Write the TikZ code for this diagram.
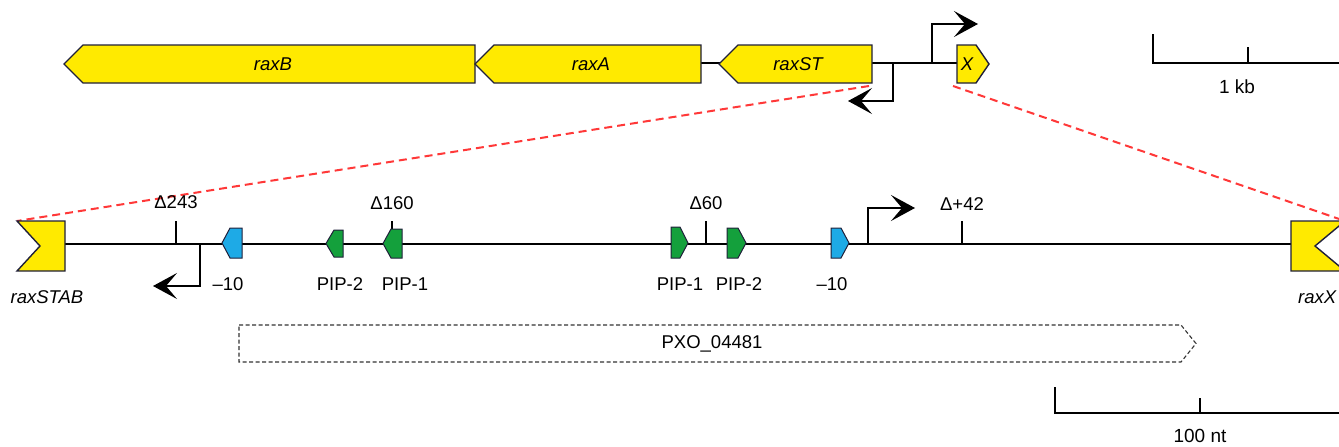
\documentclass[tikz,border=0pt]{standalone}
\usepackage{fontspec}
\setmainfont{Liberation Sans}
\usetikzlibrary{arrows.meta}
\definecolor{geneyellow}{HTML}{FFEA00}
\definecolor{geneedge}{HTML}{20203A}
\definecolor{pipgreen}{HTML}{14A03C}
\definecolor{boxblue}{HTML}{1EAAE6}
\definecolor{zoomred}{HTML}{FF3838}
\tikzset{
  gene/.style={draw=geneedge, fill=geneyellow, line width=1.4pt, line join=miter},
  pip/.style={draw=geneedge, fill=pipgreen, line width=1pt},
  minus/.style={draw=geneedge, fill=boxblue, line width=1pt},
  dna/.style={draw=black, line width=2.2pt},
  tick/.style={draw=black, line width=1.5pt},
  prom/.style={draw=black, line width=1.6pt, -{Stealth[length=24pt,width=26pt,inset=11pt]}},
  zoomline/.style={draw=zoomred, line width=2pt, dash pattern=on 8pt off 5pt},
  lbl/.style={inner sep=0pt, font=\fontsize{18.5}{20}\selectfont},
  glbl/.style={lbl, font=\fontsize{18.5}{20}\selectfont\itshape},
  scalelbl/.style={inner sep=0pt, font=\fontsize{19}{21}\selectfont},
  orf/.style={draw=black!80, line width=1.1pt, dash pattern=on 4pt off 2.5pt}
}
\begin{document}
\begin{tikzpicture}[x=1pt,y=-1pt]
\useasboundingbox (0,0) rectangle (1339,447);
\fill[white] (0,0) rectangle (1339,447);

% ---------- operon overview ----------
\draw[dna] (701,63) -- (957,63);
\draw[gene] (64,64) -- (83,45) -- (475,45) -- (475,83) -- (83,83) -- cycle;
\draw[gene] (475,64) -- (494,45) -- (701,45) -- (701,83) -- (494,83) -- cycle;
\draw[gene] (719,64) -- (738,45) -- (872,45) -- (872,83) -- (738,83) -- cycle;
\draw[gene] (957,45) -- (976,45) -- (989,64) -- (976,83) -- (957,83) -- cycle;
\node[glbl] (raxB) at (273,64) {raxB};
\node[glbl] (raxA) at (591,64) {raxA};
\node[glbl] (raxST) at (798,64) {raxST};
\node[glbl] (raxXtop) at (967,64) {X};

\coordinate (pR) at (893,63);
\coordinate (pRend) at (848,101);
\coordinate (pF) at (932,63);
\coordinate (pFend) at (978,24);
\draw[prom] (pR) |- (pRend);
\draw[prom] (pF) |- (pFend);

% scale bar, 1 kb
\draw[tick] (1153,34) -- (1153,63) -- (1345,63);
\draw[tick] (1248,47) -- (1248,63);
\node[scalelbl] (kb) at (1237,87) {1 kb};

% ---------- intergenic region ----------
\coordinate (stabL) at (17,221);
\coordinate (raxXR) at (1345,221);
\coordinate (stCorner) at (869,86);
\coordinate (xCorner) at (953,86);
\draw[zoomline] (stCorner) -- (stabL);
\draw[zoomline] (xCorner) -- (raxXR);

\draw[dna] (65,244) -- (1291,244);
\draw[gene] (17,221) -- (65,221) -- (65,271) -- (17,271) -- (40,246) -- cycle;
\draw[gene] (1291,221) -- (1345,221) -- (1315,246) -- (1345,271) -- (1291,271) -- cycle;
\node[glbl, anchor=center] (raxSTAB) at (47,297) {raxSTAB};
\node[glbl, anchor=west] (raxX) at (1298,297) {raxX};

% deletion end points
\draw[tick] (176,221) -- (176,244);
\draw[tick] (392,221) -- (392,229);
\draw[tick] (706,221) -- (706,244);
\draw[tick] (962,221) -- (962,244);
\node[lbl] (d243) at (176,202) {Δ243};
\node[lbl] (d160) at (392,203) {Δ160};
\node[lbl] (d60) at (706,203) {Δ60};
\node[lbl] (d42) at (962,204) {Δ+42};

% -10 boxes and PIP boxes
\draw[minus] (222,243) -- (230,228) -- (242,228) -- (242,258) -- (230,258) -- cycle;
\draw[pip] (326,243.5) -- (334,230) -- (343,230) -- (343,257) -- (334,257) -- cycle;
\draw[pip] (383,243.5) -- (391,229) -- (402,229) -- (402,258) -- (391,258) -- cycle;
\draw[pip] (671,227) -- (680,227) -- (688,243) -- (680,258) -- (671,258) -- cycle;
\draw[pip] (727,228) -- (738,228) -- (746,243) -- (738,258) -- (727,258) -- cycle;
\draw[minus] (831,228) -- (841,228) -- (849,243) -- (841,258) -- (831,258) -- cycle;

\node[lbl] (m10a) at (228,284) {–10};
\node[lbl] (pip2a) at (340,284) {PIP-2};
\node[lbl] (pip1a) at (405,284) {PIP-1};
\node[lbl] (pip1b) at (680,284) {PIP-1};
\node[lbl] (pip2b) at (739,284) {PIP-2};
\node[lbl] (m10b) at (832,284) {–10};

% transcription starts
\coordinate (qR) at (200,244);
\coordinate (qRend) at (153,286);
\coordinate (qF) at (868,244);
\coordinate (qFend) at (915,208);
\draw[prom] (qR) |- (qRend);
\draw[prom] (qF) |- (qFend);

% open reading frame
\draw[orf] (239,325) -- (1181,325) -- (1196,343.5) -- (1181,362) -- (239,362) -- cycle;
\node[lbl] (pxo) at (712,344) {PXO\_04481};

% scale bar, 100 nt
\draw[tick] (1055,387) -- (1055,413) -- (1345,413);
\draw[tick] (1200,398) -- (1200,413);
\node[scalelbl] (nt) at (1200,436) {100 nt};
\end{tikzpicture}
\end{document}
